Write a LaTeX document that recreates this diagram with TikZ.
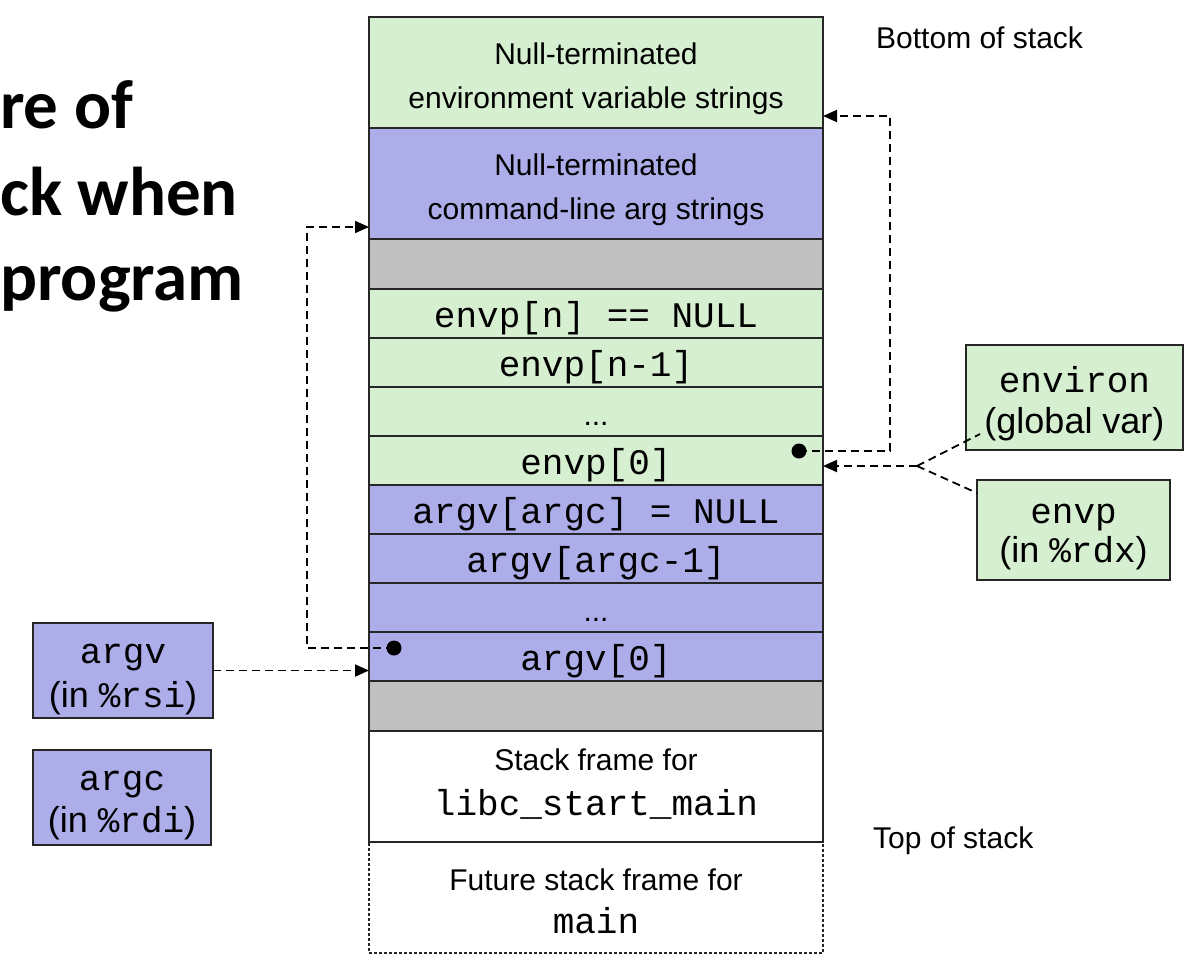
\documentclass[tikz,border=0pt]{standalone}
\usepackage{fontspec}
\setmainfont{Liberation Sans}
\setmonofont{Liberation Mono}
\newfontfamily\titlefont{Carlito}
\usetikzlibrary{arrows.meta,calc}
\definecolor{envgreen}{RGB}{214,239,208}
\definecolor{argpurple}{RGB}{173,173,234}
\definecolor{padgray}{RGB}{192,192,192}
\newcommand\mytt[1]{{\ttfamily\fontsize{36}{44}\selectfont #1}}
\begin{document}
\begin{tikzpicture}[x=1pt,y=-1pt,
  cell/.style={draw=black!85, line width=1.4pt, minimum width=454pt, outer sep=0pt,
    inner sep=0pt, anchor=north west},
  sidebox/.style={draw=black!85, line width=1.5pt, outer sep=0pt, inner sep=0pt},
  txt/.style={inner sep=0pt, anchor=base, font=\fontsize{30}{36}\selectfont},
  bigtxt/.style={inner sep=0pt, anchor=base, font=\fontsize{36}{42}\selectfont},
  titletext/.style={inner sep=0pt, anchor=base west, font=\titlefont\bfseries\fontsize{69}{80}\selectfont},
  sidelabel/.style={inner sep=0pt, anchor=base west, font=\fontsize{30}{36}\selectfont},
  conn/.style={dashed, dash pattern=on 8pt off 5pt, line width=1.8pt, -{Triangle[length=14pt,width=12pt]}},
  dashline/.style={dashed, dash pattern=on 8pt off 5pt, line width=1.8pt},
  dotmark/.style={fill=black}
]
\useasboundingbox (0,0) rectangle (1192,967);

% title (partially visible)
\node[titletext] (t1) at (0,128) {re of};
\node[titletext] (t2) at (0,215) {ck when};
\node[titletext] (t3) at (0,300) {program};

% stack cells
\node[cell, fill=envgreen, minimum height=111pt] (envstr) at (369,17) {};
\node[cell, fill=argpurple, minimum height=111pt] (argstr) at (369,128) {};
\node[cell, fill=padgray, minimum height=50pt] (padA) at (369,239) {};
\node[cell, fill=envgreen, minimum height=49pt] (envpn) at (369,289) {};
\node[cell, fill=envgreen, minimum height=49pt] (envpm) at (369,338) {};
\node[cell, fill=envgreen, minimum height=49pt] (envpd) at (369,387) {};
\node[cell, fill=envgreen, minimum height=49pt] (envp0) at (369,436) {};
\node[cell, fill=argpurple, minimum height=49pt] (argvn) at (369,485) {};
\node[cell, fill=argpurple, minimum height=49pt] (argvm) at (369,534) {};
\node[cell, fill=argpurple, minimum height=49pt] (argvd) at (369,583) {};
\node[cell, fill=argpurple, minimum height=49pt] (argv0) at (369,632) {};
\node[cell, fill=padgray, minimum height=50pt] (padB) at (369,681) {};
\node[cell, dashed, dash pattern=on 3pt off 2pt, line width=1.1pt, minimum height=111pt] (future) at (369,842) {};
\node[cell, fill=white, minimum height=111pt] (frame) at (369,731) {};

% stack texts
\node[txt] (envstrA) at (596,64) {Null-terminated};
\node[txt] (envstrB) at (596,108) {environment variable strings};
\node[txt] (argstrA) at (596,175) {Null-terminated};
\node[txt] (argstrB) at (596,219) {command-line arg strings};
\node[txt] (envpnT) at (596,327) {\mytt{envp[n] == NULL}};
\node[txt] (envpmT) at (596,376) {\mytt{envp[n-1]}};
\node[txt] (envpdT) at (596,425) {...};
\node[txt] (envp0T) at (596,474) {\mytt{envp[0]}};
\node[txt] (argvnT) at (596,523) {\mytt{argv[argc] = NULL}};
\node[txt] (argvmT) at (596,572) {\mytt{argv[argc-1]}};
\node[txt] (argvdT) at (596,621) {...};
\node[txt] (argv0T) at (596,670) {\mytt{argv[0]}};
\node[txt] (frameA) at (596,770) {Stack frame for};
\node[txt] (frameB) at (596,815) {\mytt{libc\_start\_main}};
\node[txt] (futureA) at (596,890) {Future stack frame for};
\node[txt] (futureB) at (596,933) {\mytt{main}};

% side labels
\node[sidelabel] (bottom) at (876,48) {Bottom of stack};
\node[sidelabel] (top) at (873,848) {Top of stack};

% register / variable boxes
\node[sidebox, fill=envgreen, minimum width=217pt, minimum height=105pt] (environ) at (1074.5,397.5) {};
\node[bigtxt] (environA) at (1074.5,392) {\mytt{environ}};
\node[bigtxt] (environB) at (1074.5,433) {(global var)};
\node[sidebox, fill=envgreen, minimum width=193pt, minimum height=100pt] (envpbox) at (1073.5,530) {};
\node[bigtxt] (envpA) at (1073.5,523) {\mytt{envp}};
\node[bigtxt] (envpB) at (1073.5,562) {(in \mytt{\%rdx})};
\node[sidebox, fill=argpurple, minimum width=180pt, minimum height=95pt] (argvbox) at (123,670.5) {};
\node[bigtxt] (argvA) at (123,663) {\mytt{argv}};
\node[bigtxt] (argvB) at (123,707) {(in \mytt{\%rsi})};
\node[sidebox, fill=argpurple, minimum width=178pt, minimum height=95pt] (argcbox) at (122,797.5) {};
\node[bigtxt] (argcA) at (122,790) {\mytt{argc}};
\node[bigtxt] (argcB) at (122,832) {(in \mytt{\%rdi})};

% connectors
\coordinate (dotA) at (394,648);
\coordinate (turnA) at (307,227);
\draw[conn] (dotA) -| (turnA) -- (turnA -| argstr.west);
\fill[dotmark] (dotA) circle (7.5pt);

\coordinate (dotB) at (799,451);
\coordinate (turnB) at (890,116);
\draw[conn] (dotB) -| (turnB) -- (turnB -| envstr.east);
\fill[dotmark] (dotB) circle (7.5pt);

\draw[conn] (argvbox.east) -- (argvbox.east -| argv0.west);

\coordinate (fork) at (917,466);
\draw[conn] (fork) -- (fork -| envp0.east);
\draw[dashline] (fork) -- ($(environ.south west)+(14,-16)$);
\draw[dashline] (fork) -- ($(envpbox.north west)+(0,13)$);
\end{tikzpicture}
\end{document}
